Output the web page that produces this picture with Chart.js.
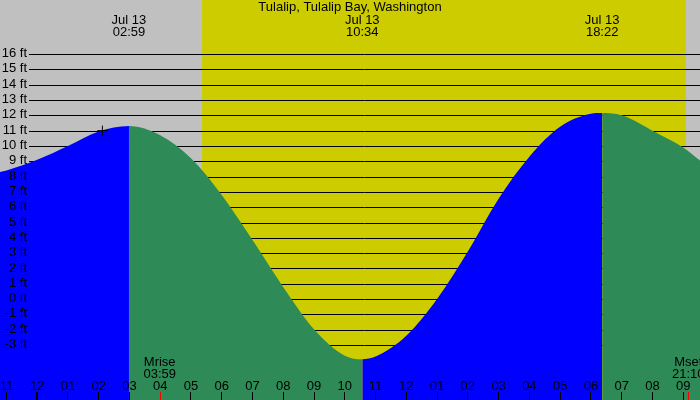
<!DOCTYPE html>
<html lang="en">
<head>
  <meta charset="UTF-8">
  <title>Tulalip, Tulalip Bay, Washington</title>
  <script src="https://cdn.jsdelivr.net/npm/chart.js"></script>
  <style>
    body { margin: 0; background: #c0c0c0; overflow: hidden; }
    canvas { display: block; }
  </style>
</head>
<body>
  <canvas id="tideChart" width="700" height="400"></canvas>

  <script>
    // hours since midnight Jul 13 (negative = evening before), tide height in ft
    const hours   = [-1.209, -1, 0, 1, 2, 2.983, 4, 5, 6, 7, 8, 9, 10, 10.567, 11, 12, 13, 14, 15, 16, 17, 18, 18.367, 19, 20, 21, 21.547];
    const heights = [8.3, 8.4, 9.1, 10.0, 10.95, 11.3, 10.7, 9.2, 6.8, 3.85, 0.78, -1.97, -3.7, -3.93, -3.75, -2.4, 0.0, 3.1, 6.55, 9.3, 11.25, 12.1, 12.15, 12.0, 11.0, 9.9, 9.05];

    // high / low tide labels
    const extremeTimes  = [2.983, 10.567, 18.367];
    const extremeLabels = ['02:59', '10:34', '18:22'];
    const dateLabel = 'Jul 13';

    // sunrise / sunset, moonrise / moonset
    const sunTimes = [5.36, 21.09];
    const moonTimes = [3.983, 21.167];
    const moonLabels = [['Mrise', '03:59'], ['Mset', '21:10']];

    // current time marker
    const markerTime = [2.12];
    const markerHeight = [11.0];

    // axis ticks
    const feetTicks = [-3, -2, -1, 0, 1, 2, 3, 4, 5, 6, 7, 8, 9, 10, 11, 12, 13, 14, 15, 16];
    const hourTicks = [-1, 0, 1, 2, 3, 4, 5, 6, 7, 8, 9, 10, 11, 12, 13, 14, 15, 16, 17, 18, 19, 20, 21];
    const hourLabels = ['11', '12', '01', '02', '03', '04', '05', '06', '07', '08', '09', '10',
                        '11', '12', '01', '02', '03', '04', '05', '06', '07', '08', '09'];

    const FONT = '13px "Liberation Sans", Arial, sans-serif';

    const tidePlugin = {
      id: 'tide',
      beforeDraw(chart) {
        const { ctx, scales: { x }, chartArea: a } = chart;
        ctx.save();
        ctx.fillStyle = '#c0c0c0';
        ctx.fillRect(a.left, a.top, a.width, a.height);
        const x1 = Math.round(x.getPixelForValue(sunTimes[0]));
        const x2 = Math.round(x.getPixelForValue(sunTimes[1]));
        ctx.fillStyle = '#cccc00';
        ctx.fillRect(x1, a.top, x2 - x1, a.height);
        ctx.restore();
      },
      beforeDatasetsDraw(chart) {
        const { ctx, scales: { y }, chartArea: a } = chart;
        ctx.save();
        ctx.strokeStyle = '#000';
        ctx.lineWidth = 1;
        feetTicks.forEach(v => {
          const py = Math.round(y.getPixelForValue(v)) + 0.5;
          ctx.beginPath();
          ctx.moveTo(a.left + 29, py);
          ctx.lineTo(a.right, py);
          ctx.stroke();
        });
        ctx.restore();
      },
      afterDatasetsDraw(chart) {
        const { ctx, scales: { x, y }, chartArea: a } = chart;
        ctx.save();
        ctx.fillStyle = '#000';
        ctx.font = FONT;

        // feet labels
        ctx.textAlign = 'right';
        ctx.textBaseline = 'middle';
        feetTicks.forEach(v => {
          ctx.fillText(v + ' ft', a.left + 27, y.getPixelForValue(v) - 0.5);
        });

        // title
        ctx.textAlign = 'center';
        ctx.textBaseline = 'alphabetic';
        ctx.fillText('Tulalip, Tulalip Bay, Washington', 350, 11);

        // high / low times
        extremeTimes.forEach((t, i) => {
          const px = x.getPixelForValue(t);
          ctx.fillText(dateLabel, px, 24);
          ctx.fillText(extremeLabels[i], px, 36);
        });

        // moon labels
        moonTimes.forEach((t, i) => {
          const px = x.getPixelForValue(t);
          ctx.fillText(moonLabels[i][0], px, 366);
          ctx.fillText(moonLabels[i][1], px, 378);
        });

        // hour labels and ticks
        hourTicks.forEach((h, i) => {
          const px = x.getPixelForValue(h);
          ctx.fillText(hourLabels[i], px, 390);
          const w = h === 0 ? 2 : 1;
          ctx.fillRect(Math.round(px - w / 2), 392, w, 8);
        });

        ctx.fillStyle = '#ff0000';
        moonTimes.forEach(t => {
          const px = Math.round(x.getPixelForValue(t));
          ctx.fillRect(px, 392, 1, 8);
        });
        ctx.restore();
      }
    };

    new Chart(document.getElementById('tideChart'), {
      type: 'line',
      data: {
        datasets: [
          {
            type: 'scatter',
            data: markerTime.map((t, i) => ({ x: t, y: markerHeight[i] })),
            pointStyle: 'cross',
            radius: 5,
            borderColor: '#000',
            borderWidth: 1
          },
          {
            data: hours.map((h, i) => ({ x: h, y: heights[i] })),
            borderWidth: 0,
            borderColor: 'rgba(0,0,0,0)',
            pointRadius: 0,
            fill: 'start',
            cubicInterpolationMode: 'monotone',
            backgroundColor: '#0000ff',
            segment: {
              backgroundColor: c => c.p1.parsed.y >= c.p0.parsed.y ? '#0000ff' : '#2e8b57'
            }
          }
        ]
      },
      options: {
        responsive: false,
        animation: false,
        layout: { padding: 0, autoPadding: false },
        plugins: { legend: { display: false }, title: { display: false }, tooltip: { enabled: false } },
        scales: {
          x: { type: 'linear', min: -1.209, max: 21.547, display: false },
          y: { min: -6.59, max: 19.53, display: false }
        }
      },
      plugins: [tidePlugin]
    });
  </script>
</body>
</html>
